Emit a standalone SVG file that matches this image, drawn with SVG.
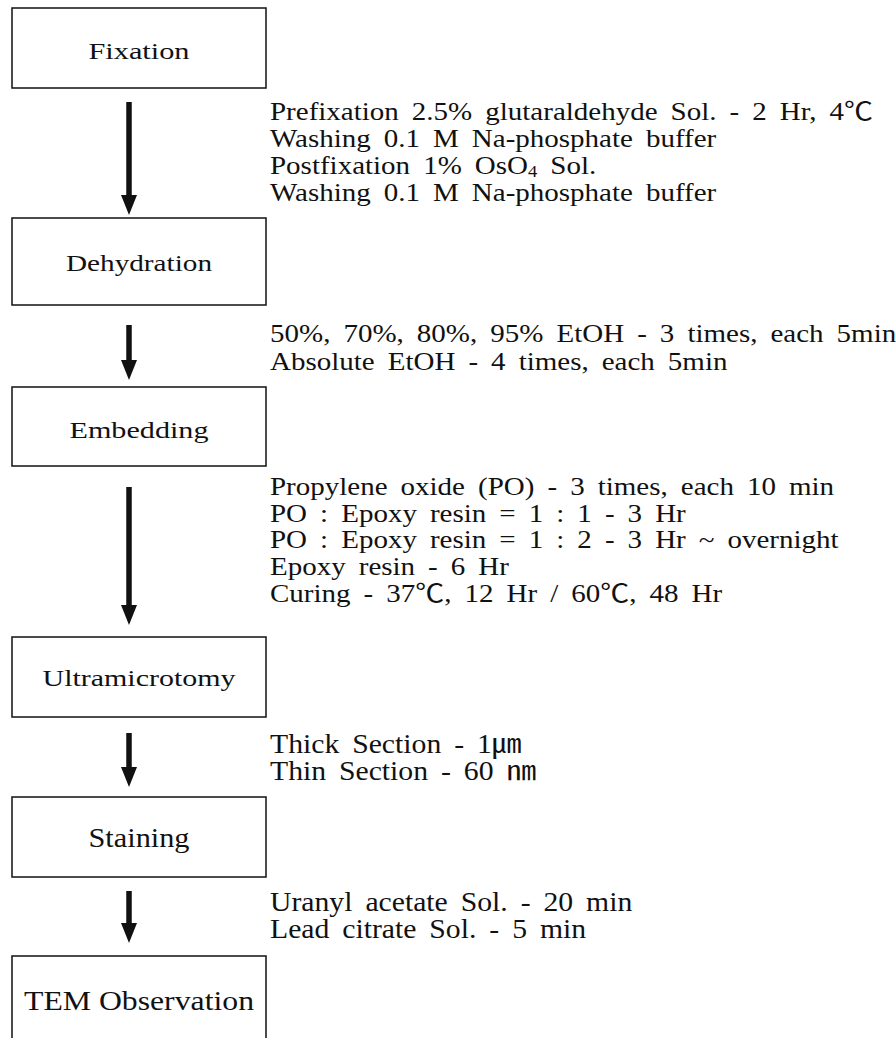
<svg xmlns="http://www.w3.org/2000/svg" width="896" height="1038" viewBox="0 0 896 1038">
<style>
.box{fill:#fff;stroke:#111;stroke-width:1.5}
.lbl{font-family:"Liberation Serif","Noto Sans CJK KR",serif;font-size:24px;fill:#111;text-anchor:middle}
.lbl2{font-family:"Liberation Serif","Noto Sans CJK KR",serif;font-size:27px;fill:#111;text-anchor:middle}
.t{font-family:"Liberation Serif","Noto Sans CJK KR",serif;font-size:25px;fill:#111;word-spacing:5px}
.c{font-family:"Liberation Serif","Noto Sans CJK KR",serif;font-size:27px;fill:#111;word-spacing:5px}
.shaft{stroke:#111;stroke-width:5.5}
.head{fill:#111}
</style>
<rect width="896" height="1038" fill="#fff"/>
<g id="connectors">
<line class="shaft" x1="129" y1="102" x2="129" y2="197"/><polygon class="head" points="121,195 137,195 129,215"/>
<line class="shaft" x1="129" y1="325" x2="129" y2="362"/><polygon class="head" points="121,360 137,360 129,380"/>
<line class="shaft" x1="129" y1="487" x2="129" y2="607"/><polygon class="head" points="121,605 137,605 129,625"/>
<line class="shaft" x1="129" y1="733" x2="129" y2="769"/><polygon class="head" points="121,767 137,767 129,787"/>
<line class="shaft" x1="129" y1="891" x2="129" y2="925"/><polygon class="head" points="121,923 137,923 129,943"/>
</g>
<g id="fixation"><rect class="box" x="12" y="8" width="254" height="80"/><text class="lbl" x="139" y="59" textLength="101" lengthAdjust="spacingAndGlyphs">Fixation</text></g>
<g id="dehydration"><rect class="box" x="12" y="218" width="254" height="87"/><text class="lbl" x="139" y="271" textLength="146" lengthAdjust="spacingAndGlyphs">Dehydration</text></g>
<g id="embedding"><rect class="box" x="12" y="387" width="254" height="79"/><text class="lbl" x="139" y="438" textLength="139" lengthAdjust="spacingAndGlyphs">Embedding</text></g>
<g id="ultramicrotomy"><rect class="box" x="12" y="637" width="254" height="80"/><text class="lbl" x="139" y="686" textLength="193" lengthAdjust="spacingAndGlyphs">Ultramicrotomy</text></g>
<g id="staining"><rect class="box" x="12" y="797" width="254" height="80"/><text class="lbl2" x="139" y="847" textLength="101" lengthAdjust="spacingAndGlyphs">Staining</text></g>
<g id="tem"><path class="box" d="M12,1040 V956 H266 V1040"/><text class="lbl2" x="139" y="1010" textLength="230" lengthAdjust="spacingAndGlyphs">TEM Observation</text></g>
<g id="notes">
<text class="t" transform="translate(270,120) scale(1.16,1)">Prefixation 2.5% glutaraldehyde Sol. - 2 Hr, 4℃</text>
<text class="t" transform="translate(270,147) scale(1.16,1)">Washing 0.1 M Na-phosphate buffer</text>
<text class="t" transform="translate(270,174) scale(1.16,1)">Postfixation 1% OsO<tspan font-size="16" dy="3">4</tspan><tspan dy="-3"> Sol.</tspan></text>
<text class="t" transform="translate(270,201) scale(1.16,1)">Washing 0.1 M Na-phosphate buffer</text>
<text class="t" transform="translate(270,342) scale(1.16,1)">50%, 70%, 80%, 95% EtOH - 3 times, each 5min</text>
<text class="t" transform="translate(270,370) scale(1.16,1)">Absolute EtOH - 4 times, each 5min</text>
<text class="t" transform="translate(270,495) scale(1.16,1)">Propylene oxide (PO) - 3 times, each 10 min</text>
<text class="t" transform="translate(270,522) scale(1.16,1)">PO : Epoxy resin = 1 : 1 - 3 Hr</text>
<text class="t" transform="translate(270,548) scale(1.16,1)">PO : Epoxy resin = 1 : 2 - 3 Hr ~ overnight</text>
<text class="t" transform="translate(270,575) scale(1.16,1)">Epoxy resin - 6 Hr</text>
<text class="t" transform="translate(270,602) scale(1.16,1)">Curing - 37℃, 12 Hr / 60℃, 48 Hr</text>
<text class="c" transform="translate(270,753) scale(1.1,1)">Thick Section - 1㎛</text>
<text class="c" transform="translate(270,780) scale(1.1,1)">Thin Section - 60 ㎚</text>
<text class="c" transform="translate(270,911) scale(1.1,1)">Uranyl acetate Sol. - 20 min</text>
<text class="c" transform="translate(270,938) scale(1.1,1)">Lead citrate Sol. - 5 min</text>
</g>
</svg>
